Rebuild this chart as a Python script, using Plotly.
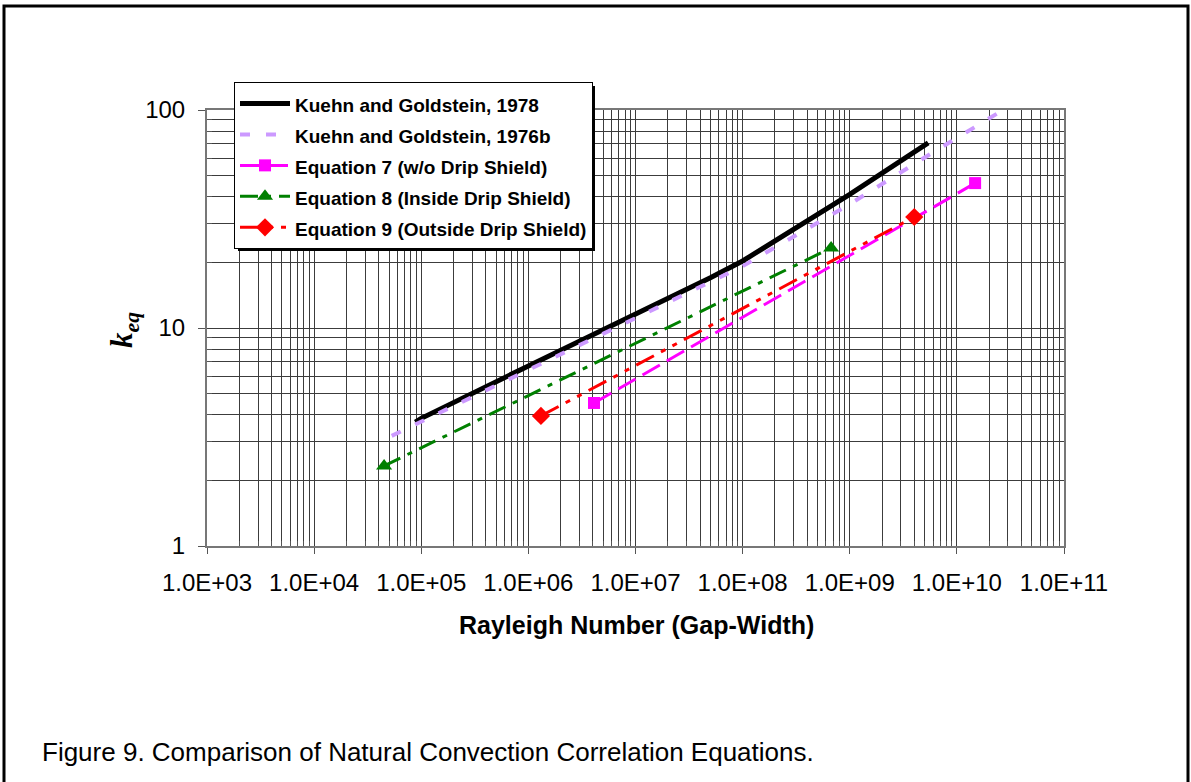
import plotly.graph_objects as go

# Rayleigh number (gap-width) vs. equivalent conductivity k_eq
ra_kg1978 = [8.8e4, 1e5, 1e6, 1e7, 5e7, 1e8, 1e9, 5.4e9]
k_kg1978 = [3.7, 3.85, 6.7, 11.5, 17.0, 20.3, 41.0, 70.6]

ra_kg1976b = [5.3e4, 1e6, 1e7, 1e8, 1e9, 5.1e9, 2.7e10]
k_kg1976b = [3.2, 6.4, 11.1, 19.2, 37.0, 60.9, 100.0]

ra_eq7 = [4.1e6, 1.48e10]
k_eq7 = [4.53, 46.2]

ra_eq8 = [4.5e4, 6.7e8]
k_eq8 = [2.33, 23.3]

ra_eq9 = [1.31e6, 4.0e9]
k_eq9 = [3.95, 32.3]

x_decades = [1e3, 1e4, 1e5, 1e6, 1e7, 1e8, 1e9, 1e10, 1e11]
x_ticktext = ["1.0E+03", "1.0E+04", "1.0E+05", "1.0E+06", "1.0E+07",
              "1.0E+08", "1.0E+09", "1.0E+10", "1.0E+11"]
y_decades = [1, 10, 100]
y_ticktext = ["1", "10", "100"]

W, H = 1191, 782
L, R, T, B = 207, 1064, 110, 546  # plot area in pixels


def px(x):
    return (x - L) / (R - L)


def py(y):
    return (B - y) / (B - T)


def legend_label(s):
    return '<span style="font-size:19px">' + s + '</span>'


x_minor = [m * d for d in x_decades[:-1] for m in range(2, 10)]
y_minor = [m * d for d in y_decades[:-1] for m in range(2, 10)]

FONT = "Liberation Sans, Arial, sans-serif"
GRID = "#3c3c3c"

fig = go.Figure()
fig.add_trace(go.Scatter(
    x=ra_kg1978, y=k_kg1978, mode="lines",
    name=legend_label("Kuehn and Goldstein, 1978"),
    line=dict(color="black", width=5)))
fig.add_trace(go.Scatter(
    x=ra_kg1976b, y=k_kg1976b, mode="lines",
    name=legend_label("Kuehn and Goldstein, 1976b"),
    line=dict(color="#cc99ff", width=4, dash="10px,16px")))
fig.add_trace(go.Scatter(
    x=ra_eq7, y=k_eq7, mode="lines+markers",
    name=legend_label("Equation 7 (w/o Drip Shield)"),
    line=dict(color="#ff00ff", width=3, dash="20px,8px"),
    marker=dict(symbol="square", size=12, color="#ff00ff")))
fig.add_trace(go.Scatter(
    x=ra_eq8, y=k_eq8, mode="lines+markers",
    name=legend_label("Equation 8 (Inside Drip Shield)"),
    line=dict(color="#008000", width=3, dash="18px,8px,5px,8px"),
    marker=dict(symbol="triangle-up", size=14, color="#008000")))
fig.add_trace(go.Scatter(
    x=ra_eq9, y=k_eq9, mode="lines+markers",
    name=legend_label("Equation 9 (Outside Drip Shield)"),
    line=dict(color="#ff0000", width=3, dash="20px,8px,5px,8px,5px,8px"),
    marker=dict(symbol="diamond", size=14, color="#ff0000")))

fig.update_layout(
    width=W, height=H,
    margin=dict(l=L, r=W - R, t=T, b=H - B, pad=0),
    paper_bgcolor="white", plot_bgcolor="white",
    font=dict(family=FONT, color="black"),
    showlegend=True,
    legend=dict(
        x=px(234), y=py(82), xanchor="left", yanchor="top",
        bgcolor="white", bordercolor="black", borderwidth=1,
        font=dict(family=FONT, size=21.5, color="black", weight="bold"),
        itemwidth=50, tracegroupgap=0),
    xaxis=dict(
        type="log", range=[3, 11],
        tickmode="array", tickvals=x_decades, ticktext=x_ticktext,
        ticks="outside", ticklen=6, tickcolor="#555", ticklabelstandoff=8,
        tickfont=dict(size=24, family=FONT),
        showgrid=True, gridcolor=GRID, gridwidth=1,
        showline=True, linecolor="#777", linewidth=2, mirror=True,
        zeroline=False,
        minor=dict(tickmode="array", tickvals=x_minor, ticks="inside",
                   ticklen=5, tickcolor="#555", showgrid=True,
                   gridcolor=GRID, gridwidth=1)),
    yaxis=dict(
        type="log", range=[0, 2],
        tickmode="array", tickvals=y_decades, ticktext=y_ticktext,
        ticks="outside", ticklen=7, tickcolor="#555", ticklabelstandoff=8,
        tickfont=dict(size=24, family=FONT),
        showgrid=True, gridcolor=GRID, gridwidth=1,
        showline=True, linecolor="#777", linewidth=2, mirror=True,
        zeroline=False,
        minor=dict(tickmode="array", tickvals=y_minor, ticks="inside",
                   ticklen=5, tickcolor="#555", showgrid=True,
                   gridcolor=GRID, gridwidth=1)),
    shapes=[
        # outer frame of the figure
        dict(type="rect", xref="paper", yref="paper",
             x0=px(4), x1=px(1188), y0=py(800), y1=py(6),
             line=dict(color="black", width=3), layer="above"),
        # drop shadow behind the legend
        dict(type="rect", xref="paper", yref="paper",
             x0=px(238), x1=px(595), y0=py(251), y1=py(86),
             fillcolor="black", line=dict(width=0), layer="above"),
    ],
    annotations=[
        dict(text="<b>Rayleigh Number (Gap-Width)</b>", xref="paper", yref="paper",
             x=px(636), y=py(625), xanchor="center", yanchor="middle",
             showarrow=False, font=dict(size=25, family=FONT)),
        dict(text="<b><i>k</i></b><sub><b><i>eq</i></b></sub>",
             xref="paper", yref="paper", x=px(124), y=py(330),
             xanchor="center", yanchor="middle", textangle=-90, showarrow=False,
             font=dict(size=31, family="Liberation Serif, Times New Roman, serif")),
        dict(text="Figure 9. Comparison of Natural Convection Correlation Equations.",
             xref="paper", yref="paper", x=px(40), y=py(752),
             xanchor="left", yanchor="middle", showarrow=False,
             font=dict(size=26, family=FONT)),
    ],
)

fig.write_html("out.html")
